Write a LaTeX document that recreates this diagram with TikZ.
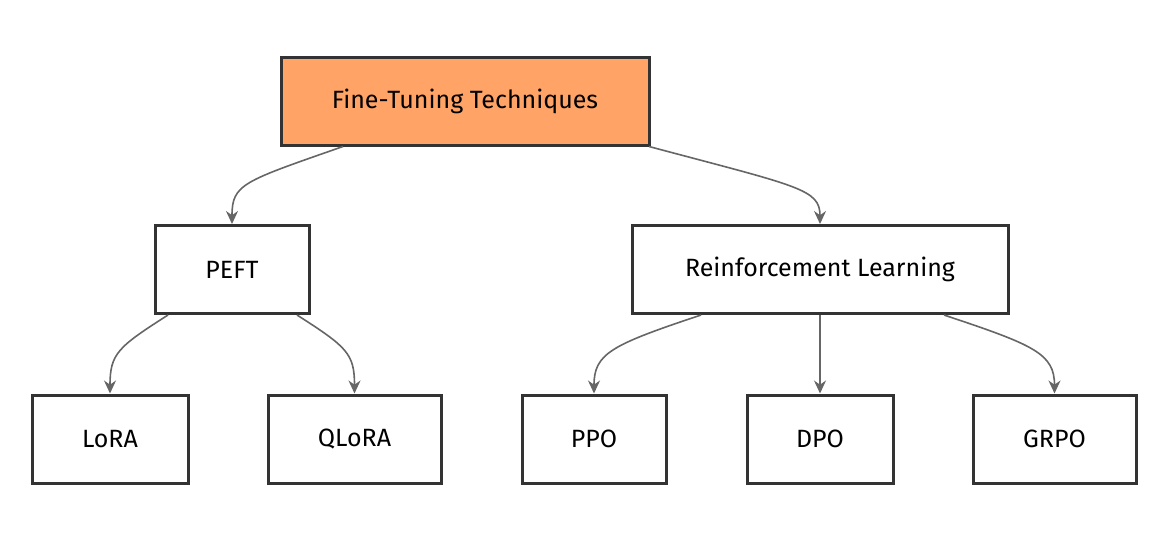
\documentclass[tikz,border=0pt]{standalone}
\usepackage{fontspec}
\setmainfont{Fira Sans}
\usetikzlibrary{arrows.meta}
\definecolor{orng}{HTML}{FFA366}
\definecolor{edge}{HTML}{666666}
\definecolor{bord}{HTML}{333333}
\begin{document}
\begin{tikzpicture}[x=1pt,y=-1pt,
  box/.style={draw=bord,line width=3pt,fill=white,minimum height=88pt,inner sep=0pt,font=\fontsize{25}{30}\selectfont},
  conn/.style={draw=edge,line width=1.6pt,-{Stealth[length=13pt,width=12pt]}}]
\useasboundingbox (0,0) rectangle (1167,558);
\node[box,fill=orng,minimum width=368pt] (ft) at (465,101) {Fine-Tuning Techniques};
\node[box,minimum width=154pt] (peft) at (232,269.5) {PEFT};
\node[box,minimum width=376pt] (rl) at (820,269.5) {Reinforcement Learning};
\node[box,minimum width=156pt] (lora) at (110,439) {LoRA};
\node[box,minimum width=173pt] (qlora) at (354.5,439) {QLoRA};
\node[box,minimum width=144pt] (ppo) at (594,439) {PPO};
\node[box,minimum width=146pt] (dpo) at (820,439) {DPO};
\node[box,minimum width=163pt] (grpo) at (1054.5,439) {GRPO};
\draw[conn] ([xshift=-122pt]ft.south) .. controls +(-100,35) and +(0,-40) .. (peft.north);
\draw[conn] ([xshift=184pt]ft.south) .. controls +(150,40) and +(0,-35) .. (rl.north);
\draw[conn] ([xshift=-64pt]peft.south) .. controls +(-50,32) and +(0,-40) .. (lora.north);
\draw[conn] ([xshift=65pt]peft.south) .. controls +(50,32) and +(0,-40) .. (qlora.north);
\draw[conn] ([xshift=-119pt]rl.south) .. controls +(-90,30) and +(0,-40) .. (ppo.north);
\draw[conn] (rl.south) -- (dpo.north);
\draw[conn] ([xshift=124pt]rl.south) .. controls +(90,30) and +(0,-40) .. (grpo.north);
\end{tikzpicture}
\end{document}
